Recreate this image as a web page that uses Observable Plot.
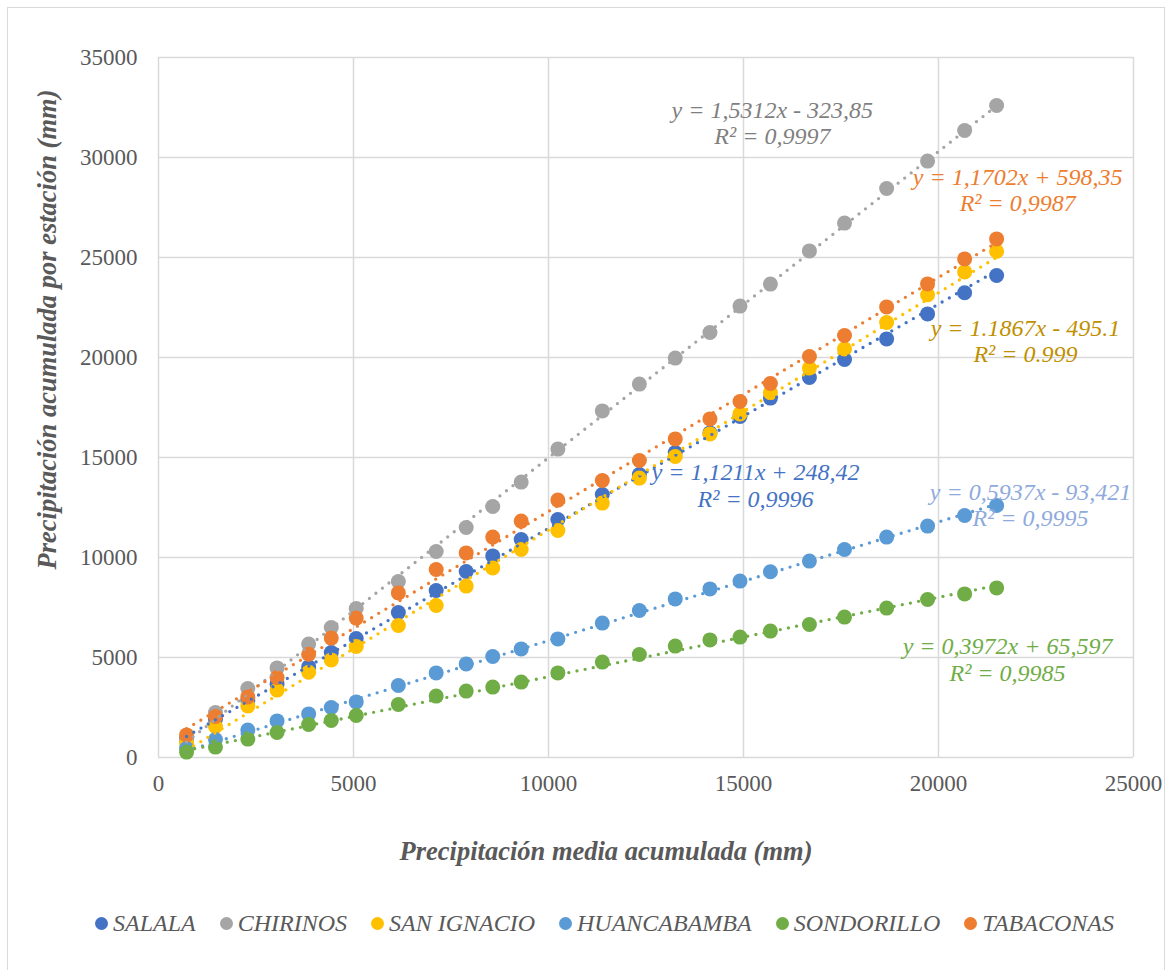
<!DOCTYPE html>
<html>
<head>
<meta charset="utf-8">
<script src="https://cdn.jsdelivr.net/npm/d3@7"></script>
<script src="https://cdn.jsdelivr.net/npm/@observablehq/plot@0.6"></script>
<style>
  html, body { margin: 0; padding: 0; background: #fff; overflow: hidden; }
  #wrap { position: relative; width: 1176px; height: 970px; }
  #frame { position: absolute; left: 7px; top: 7px; width: 1158px; height: 1000px;
           border: 1.5px solid #d9d9d9; box-sizing: border-box; pointer-events: none; }
  #legend { position: absolute; left: 95px; top: 908px; display: flex; align-items: center;
            font-family: "Liberation Serif", "Times New Roman", serif; font-style: italic;
            font-size: 24px; color: #595959; white-space: nowrap; line-height: 30px; }
  .item { display: flex; align-items: center; margin-right: 24px; }
  .sw { width: 13px; height: 13px; border-radius: 50%; margin-right: 5px; }
</style>
</head>
<body>
<div id="wrap">
  <div id="chart"></div>
  <div id="legend"></div>
  <div id="frame"></div>
</div>
<script>
// Precipitación media acumulada (mm) — eje X común a todas las estaciones
const xMedia = [720, 1460, 2290, 3040, 3850, 4430, 5070, 6150, 7120, 7890, 8570, 9300, 10240,
                11380, 12330, 13250, 14140, 14910, 15690, 16690, 17590, 18670, 19720, 20670, 21490];

// Precipitación acumulada por estación (mm)
const salala      = [950, 1900, 2850, 3680, 4530, 5250, 5950, 7250, 8350, 9300, 10080, 10900, 11900,
                     13150, 14150, 15250, 16230, 17050, 17970, 19000, 19900, 20930, 22180, 23240, 24100];
const chirinos    = [850, 2250, 3450, 4480, 5670, 6500, 7450, 8800, 10300, 11500, 12550, 13770, 15420,
                     17330, 18670, 19970, 21250, 22570, 23670, 25330, 26720, 28450, 29820, 31350, 32600];
const sanIgnacio  = [700, 1550, 2580, 3370, 4260, 4880, 5550, 6600, 7600, 8570, 9480, 10400, 11350,
                     12720, 13970, 15050, 16180, 17180, 18240, 19470, 20430, 21750, 23140, 24280, 25310];
const huancabamba = [450, 900, 1370, 1830, 2180, 2500, 2780, 3600, 4230, 4680, 5050, 5430, 5930,
                     6720, 7350, 7930, 8430, 8820, 9290, 9820, 10400, 11020, 11570, 12100, 12600];
const sondorillo  = [270, 520, 920, 1250, 1650, 1850, 2100, 2650, 3070, 3320, 3520, 3770, 4230,
                     4770, 5150, 5570, 5880, 6020, 6320, 6650, 7020, 7470, 7900, 8180, 8480];
const tabaconas   = [1130, 2050, 3030, 4000, 5160, 5970, 6970, 8230, 9400, 10230, 11020, 11820, 12870,
                     13850, 14850, 15930, 16930, 17800, 18700, 20050, 21100, 22530, 23680, 24930, 25930];

const seriesNames  = ["SALALA", "CHIRINOS", "SAN IGNACIO", "HUANCABAMBA", "SONDORILLO", "TABACONAS"];
const seriesValues = [salala, chirinos, sanIgnacio, huancabamba, sondorillo, tabaconas];

// Líneas de tendencia lineales (pendiente, intercepto, R²)
const slopes     = [1.1211, 1.5312, 1.1867, 0.5937, 0.3972, 1.1702];
const intercepts = [248.42, -323.85, -495.1, -93.421, 65.597, 598.35];
const r2Values   = [0.9996, 0.9997, 0.999, 0.9995, 0.9985, 0.9987];

const xTicks = [0, 5000, 10000, 15000, 20000, 25000];
const yTicks = [0, 5000, 10000, 15000, 20000, 25000, 30000, 35000];

// Estilo
const seriesColors = ["#4472C4", "#A5A5A5", "#FFC000", "#5B9BD5", "#70AD47", "#ED7D31"];
const labelColors  = ["#4472C4", "#7F7F7F", "#BF9000", "#8FAADC", "#70AD47", "#ED7D31"];
const decimalMarks = [",", ",", ".", ",", ",", ","];
// Posición (en unidades de los ejes) del centro de cada etiqueta de ecuación
const labelAt = [[15310, 13620], [15740, 31750], [22230, 20850], [22360, 12650], [21770, 4930], [22030, 28400]];

const serif = '"Liberation Serif", "Times New Roman", serif';
const textGray = "#595959";

// Tabla larga de puntos, en el orden de dibujo de las series
const points = [];
seriesNames.forEach((name, i) => {
  seriesValues[i].forEach((v, j) => points.push({serie: name, x: xMedia[j], y: v}));
});

// Extremos de cada recta de tendencia
const xMin = d3.min(xMedia), xMax = d3.max(xMedia);
const trends = [];
seriesNames.forEach((name, i) => {
  for (const x of [xMin, xMax]) trends.push({serie: name, x, y: slopes[i] * x + intercepts[i]});
});

const fmt = (n, mark) => String(n).replace(".", mark);
const labels = seriesNames.map((name, i) => {
  const b = intercepts[i];
  const sign = b < 0 ? " - " : " + ";
  const m = decimalMarks[i];
  return {
    serie: name,
    x: labelAt[i][0],
    y: labelAt[i][1],
    text: `y = ${fmt(slopes[i], m)}x${sign}${fmt(Math.abs(b), m)}\nR² = ${fmt(r2Values[i], m)}`
  };
});

const chart = Plot.plot({
  width: 1176,
  height: 880,
  marginLeft: 158,
  marginRight: 43,
  marginTop: 57,
  marginBottom: 123,
  style: {fontFamily: serif, fontSize: "23px", color: textGray, background: "transparent", overflow: "visible"},
  x: {domain: [0, 25000]},
  y: {domain: [0, 35000]},
  color: {domain: seriesNames, range: seriesColors},
  marks: [
    Plot.gridX(xTicks, {stroke: "#d9d9d9", strokeOpacity: 1, strokeWidth: 1.5}),
    Plot.gridY(yTicks, {stroke: "#d9d9d9", strokeOpacity: 1, strokeWidth: 1.5}),
    Plot.axisX({ticks: xTicks, tickSize: 0, tickPadding: 17, tickFormat: d => String(d),
                fontSize: 23, color: textGray, label: null}),
    Plot.axisY({ticks: yTicks, tickSize: 0, tickPadding: 21, tickFormat: d => String(d),
                fontSize: 23, color: textGray, label: null}),
    Plot.dot(points, {x: "x", y: "y", fill: "serie", r: 7.5}),
    Plot.line(trends, {x: "x", y: "y", z: "serie", stroke: "serie", strokeWidth: 3.3,
                       strokeDasharray: "0 8.3", strokeLinecap: "round"}),
    ...labels.map((l, i) => Plot.text([l], {
      x: "x", y: "y", text: "text", fill: labelColors[i],
      fontFamily: serif, fontSize: 24, fontStyle: "italic",
      textAnchor: "middle", lineAnchor: "middle", lineHeight: 1.1
    })),
    Plot.text(["Precipitación media acumulada (mm)"], {
      text: d => d, frameAnchor: "bottom", dx: -40, dy: 94,
      textAnchor: "middle", lineAnchor: "middle",
      fontFamily: serif, fontSize: 26.5, fontStyle: "italic", fontWeight: "bold", fill: textGray
    }),
    Plot.text(["Precipitación acumulada por estación (mm)"], {
      text: d => d, frameAnchor: "left", dx: -111, dy: -78, rotate: -90,
      textAnchor: "middle", lineAnchor: "middle",
      fontFamily: serif, fontSize: 26.5, fontStyle: "italic", fontWeight: "bold", fill: textGray
    })
  ]
});
document.getElementById("chart").appendChild(chart);

// Leyenda
const legend = document.getElementById("legend");
seriesNames.forEach((name, i) => {
  const item = document.createElement("div");
  item.className = "item";
  const sw = document.createElement("span");
  sw.className = "sw";
  sw.style.background = seriesColors[i];
  const lab = document.createElement("span");
  lab.textContent = name;
  item.appendChild(sw);
  item.appendChild(lab);
  legend.appendChild(item);
});
</script>
</body>
</html>
